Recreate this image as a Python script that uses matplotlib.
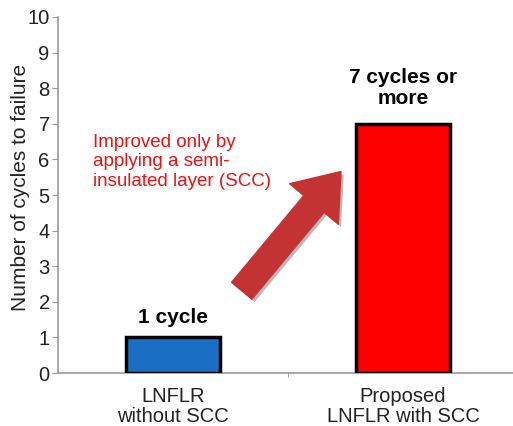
import matplotlib.pyplot as plt
from matplotlib.patches import FancyArrowPatch
import matplotlib.patheffects as pe

categories = ['LNFLR\nwithout SCC', 'Proposed\nLNFLR with SCC']
cycles = [1, 7]
bar_labels = ['1 cycle', '7 cycles or\nmore']
bar_colors = ['#1a6fc4', '#ff0000']
note = 'Improved only by\napplying a semi-\ninsulated layer (SCC)'

plt.rcParams['font.family'] = ['Liberation Sans', 'DejaVu Sans']

fig = plt.figure(figsize=(5.13, 4.26), dpi=100)
ax = fig.add_axes([0.113, 0.1244, 0.887, 0.8357])

x = range(len(categories))
ax.bar(x, cycles, width=0.41, color=bar_colors, edgecolor='black', linewidth=2.5, zorder=3)

ax.set_xlim(-0.5, 1.478)
ax.set_ylim(0, 10)
ax.set_yticks(range(0, 11))
ax.set_xticks(list(x))
ax.set_xticklabels(categories, fontsize=14.5, color='#222222', linespacing=1.05)
ax.set_xticks([0.5], minor=True)
ax.tick_params(axis='x', which='major', length=0, pad=10)
ax.tick_params(axis='x', which='minor', length=3, color='#999999')
ax.tick_params(axis='y', labelsize=14.5, colors='#222222', color='#999999', length=4, pad=2)
ax.set_ylabel('Number of cycles to failure', fontsize=15, color='#222222')
ax.yaxis.set_label_coords(-0.061, 0.52)

for s in ['top', 'right']:
    ax.spines[s].set_visible(False)
for s in ['left', 'bottom']:
    ax.spines[s].set_color('#999999')
    ax.spines[s].set_linewidth(1.2)

ax.text(0, 1.55, bar_labels[0], ha='center', va='center', fontsize=15, fontweight='bold')
ax.text(1, 8.0, bar_labels[1], ha='center', va='center', fontsize=15, fontweight='bold',
        linespacing=1.1)

ax.text(-0.348, 6.72, note, ha='left', va='top', fontsize=13.5, color='#ee1111', linespacing=1.2)

arrow = FancyArrowPatch((0.291, 2.25), (0.738, 5.72),
                        arrowstyle='simple,head_width=2.4,head_length=1.6,tail_width=1.0',
                        mutation_scale=19, color='#c43333', zorder=2,
                        path_effects=[pe.SimplePatchShadow(offset=(2, -2), alpha=0.3), pe.Normal()])
ax.add_patch(arrow)

fig.savefig('out.png', dpi=100)
